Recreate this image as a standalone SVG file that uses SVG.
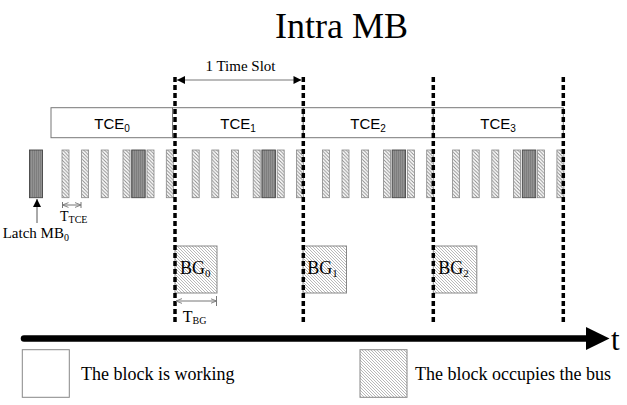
<svg xmlns="http://www.w3.org/2000/svg" width="627" height="405" viewBox="0 0 627 405">
<style>
.serif{font-family:"Liberation Serif","Times New Roman",serif;fill:#000}
.sans{font-family:"Liberation Sans",Arial,sans-serif;fill:#000}
.tce{fill:#fff;stroke:#777;stroke-width:1}
.bar{fill:url(#hatchBar);stroke:#888;stroke-width:0.8}
.dark{fill:url(#darkFill);stroke:#444;stroke-width:0.9}
.bg{fill:url(#hatchBG);stroke:#888;stroke-width:1}
.slot{stroke:#000;stroke-width:3.5;stroke-dasharray:5 3;fill:none}
.thin{stroke:#777;stroke-width:1;fill:none}
.legend{fill:#fff;stroke:#888;stroke-width:1}
</style>
<defs>
<pattern id="hatchBar" patternUnits="userSpaceOnUse" width="3.5" height="3.5">
<rect width="3.5" height="3.5" fill="#fff"/>
<path d="M-1,-1 L4.5,4.5 M-1,2.5 L1,4.5 M2.5,-1 L4.5,1" stroke="#888" stroke-width="0.9"/>
</pattern>
<pattern id="hatchBG" patternUnits="userSpaceOnUse" width="3" height="3">
<rect width="3" height="3" fill="#fff"/>
<path d="M-1,-1 L4,4 M-1,2 L1,4 M2,-1 L4,1" stroke="#999" stroke-width="0.7"/>
</pattern>
<pattern id="darkFill" patternUnits="userSpaceOnUse" width="2" height="4">
<rect width="2" height="4" fill="#929292"/>
<rect width="1" height="4" fill="#7e7e7e"/>
</pattern>
<marker id="ah" viewBox="0 0 10 10" refX="10" refY="5" markerWidth="11" markerHeight="8" markerUnits="userSpaceOnUse" orient="auto-start-reverse">
<path d="M0,0 L10,5 L0,10 z" fill="#000"/>
</marker>
<marker id="oa" viewBox="0 0 10 10" refX="10" refY="5" markerWidth="6" markerHeight="6" markerUnits="userSpaceOnUse" orient="auto-start-reverse">
<path d="M0,1 L10,5 L0,9" fill="none" stroke="#777" stroke-width="1.5"/>
</marker>
<marker id="la" viewBox="0 0 10 10" refX="10" refY="5" markerWidth="9" markerHeight="8" markerUnits="userSpaceOnUse" orient="auto">
<path d="M0,0 L10,5 L0,10 z" fill="#000"/>
</marker>
</defs>

<text class="serif" x="275" y="38" font-size="36">Intra MB</text>

<g id="tce0"><rect class="tce" x="51" y="107.7" width="121.5" height="30"/><text class="sans" x="112" y="128.5" font-size="15" text-anchor="middle">TCE<tspan font-size="10" dy="3">0</tspan></text></g>
<g id="tce1"><rect class="tce" x="172.5" y="107.7" width="130.8" height="30"/><text class="sans" x="238" y="128.5" font-size="15" text-anchor="middle">TCE<tspan font-size="10" dy="3">1</tspan></text></g>
<g id="tce2"><rect class="tce" x="303.3" y="107.7" width="130" height="30"/><text class="sans" x="368" y="128.5" font-size="15" text-anchor="middle">TCE<tspan font-size="10" dy="3">2</tspan></text></g>
<g id="tce3"><rect class="tce" x="433.3" y="107.7" width="130" height="30"/><text class="sans" x="498" y="128.5" font-size="15" text-anchor="middle">TCE<tspan font-size="10" dy="3">3</tspan></text></g>

<g id="latch-bar"><rect class="dark" x="29.5" y="150" width="13" height="47.7"/></g>
<g id="bars0">
<rect class="bar" x="62" y="150" width="7" height="47.7"/>
<rect class="bar" x="81.6" y="150" width="7" height="47.7"/>
<rect class="bar" x="101.2" y="150" width="7" height="47.7"/>
<rect class="bar" x="123" y="150" width="7" height="47.7"/>
<rect class="dark" x="131.7" y="150" width="13.5" height="47.7"/>
<rect class="bar" x="147" y="150" width="7" height="47.7"/>
<rect class="bar" x="166.3" y="150" width="7" height="47.7"/>
</g>
<g id="bars1">
<rect class="bar" x="192.2" y="150" width="7" height="47.7"/>
<rect class="bar" x="211.8" y="150" width="7" height="47.7"/>
<rect class="bar" x="231.4" y="150" width="7" height="47.7"/>
<rect class="bar" x="253.2" y="150" width="7" height="47.7"/>
<rect class="dark" x="261.9" y="150" width="13.5" height="47.7"/>
<rect class="bar" x="277.2" y="150" width="7" height="47.7"/>
<rect class="bar" x="296.5" y="150" width="7" height="47.7"/>
</g>
<g id="bars2">
<rect class="bar" x="322.4" y="150" width="7" height="47.7"/>
<rect class="bar" x="342" y="150" width="7" height="47.7"/>
<rect class="bar" x="361.6" y="150" width="7" height="47.7"/>
<rect class="bar" x="383.4" y="150" width="7" height="47.7"/>
<rect class="dark" x="392.1" y="150" width="13.5" height="47.7"/>
<rect class="bar" x="407.4" y="150" width="7" height="47.7"/>
<rect class="bar" x="426.7" y="150" width="7" height="47.7"/>
</g>
<g id="bars3">
<rect class="bar" x="452.6" y="150" width="7" height="47.7"/>
<rect class="bar" x="472.2" y="150" width="7" height="47.7"/>
<rect class="bar" x="491.8" y="150" width="7" height="47.7"/>
<rect class="bar" x="513.6" y="150" width="7" height="47.7"/>
<rect class="dark" x="522.3" y="150" width="13.5" height="47.7"/>
<rect class="bar" x="537.6" y="150" width="7" height="47.7"/>
<rect class="bar" x="556.9" y="150" width="7" height="47.7"/>
</g>

<g id="bg0"><rect class="bg" x="175" y="246" width="42" height="47"/><text class="serif" x="180" y="274" font-size="18">BG<tspan font-size="11" dy="3">0</tspan></text></g>
<g id="bg1"><rect class="bg" x="303" y="246" width="43.5" height="47"/><text class="serif" x="307.3" y="274" font-size="18">BG<tspan font-size="11" dy="3">1</tspan></text></g>
<g id="bg2"><rect class="bg" x="433.3" y="246" width="43.5" height="47"/><text class="serif" x="438.3" y="274" font-size="18">BG<tspan font-size="11" dy="3">2</tspan></text></g>

<g id="legend-working"><rect class="legend" x="22.3" y="349.7" width="47" height="47.6"/><text class="serif" x="81" y="380" font-size="18">The block is working</text></g>
<g id="legend-bus"><rect class="bg" x="360" y="349.7" width="47" height="47.6"/><text class="serif" x="415" y="380" font-size="18">The block occupies the bus</text></g>

<g id="connectors">
<line class="slot" x1="175" y1="77" x2="175" y2="322"/>
<line class="slot" x1="303.3" y1="77" x2="303.3" y2="322"/>
<line class="slot" x1="433.3" y1="77" x2="433.3" y2="322"/>
<line class="slot" x1="563.3" y1="77" x2="563.3" y2="322"/>
<line x1="177" y1="80" x2="301.5" y2="80" stroke="#777" stroke-width="1" marker-start="url(#ah)" marker-end="url(#ah)"/>
<text class="serif" x="240.5" y="71" font-size="15" text-anchor="middle">1 Time Slot</text>
<line x1="37" y1="223" x2="37" y2="199" stroke="#555" stroke-width="1" marker-end="url(#la)"/>
<text class="serif" x="2.7" y="238" font-size="15">Latch MB<tspan font-size="10" dy="3">0</tspan></text>
<line class="thin" x1="62.5" y1="205" x2="81" y2="205" marker-start="url(#oa)" marker-end="url(#oa)"/>
<line class="thin" x1="62.5" y1="202" x2="62.5" y2="208"/>
<line class="thin" x1="81" y1="202" x2="81" y2="208"/>
<text class="serif" x="60" y="221" font-size="14">T<tspan font-size="10" dy="2">TCE</tspan></text>
<line class="thin" x1="176" y1="301" x2="216.5" y2="301" marker-start="url(#oa)" marker-end="url(#oa)"/>
<line class="thin" x1="216.5" y1="296" x2="216.5" y2="306"/>
<text class="serif" x="182.7" y="322" font-size="16">T<tspan font-size="10" dy="2">BG</tspan></text>
<line x1="24" y1="338.5" x2="588" y2="338.5" stroke="#000" stroke-width="6.5" stroke-linecap="round"/>
<polygon points="586,327 609.5,338.5 586,350" fill="#000"/>
<text class="serif" x="611" y="350" font-size="31">t</text>
</g>
</svg>
